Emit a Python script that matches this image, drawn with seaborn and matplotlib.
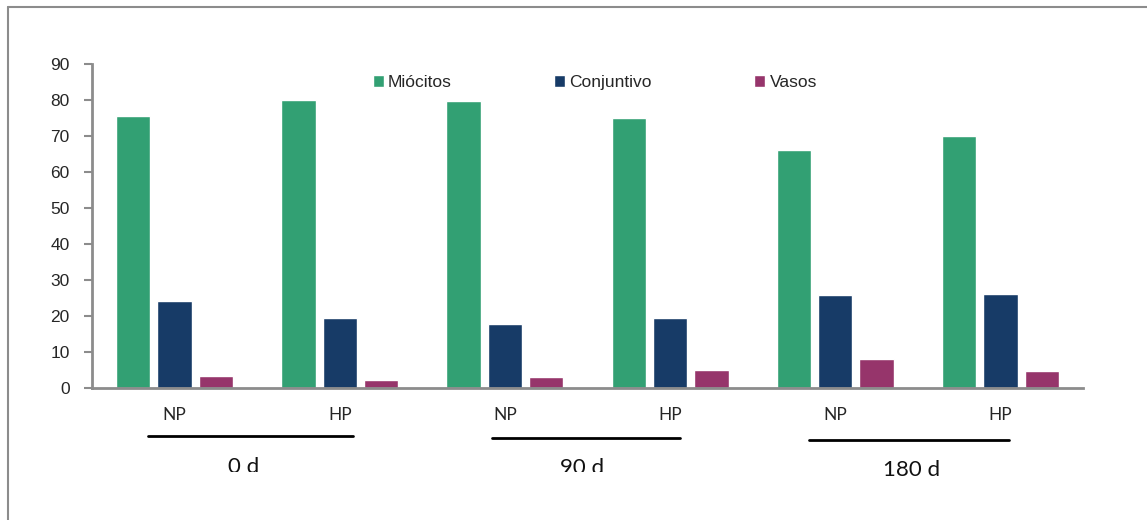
import matplotlib
matplotlib.use("Agg")
import matplotlib.pyplot as plt
import seaborn as sns
import pandas as pd
from matplotlib.transforms import Bbox, TransformedBbox
from matplotlib.lines import Line2D

# Tissue composition (%) by group
groups = ["NP 0", "HP 0", "NP 90", "HP 90", "NP 180", "HP 180"]
tick_labels = ["NP", "HP", "NP", "HP", "NP", "HP"]
series = ["Miócitos", "Conjuntivo", "Vasos"]
miocitos = [75.6, 80.0, 79.7, 75.0, 66.1, 70.0]
conjuntivo = [24.1, 19.5, 17.8, 19.5, 25.9, 26.1]
vasos = [3.3, 2.2, 3.0, 5.0, 8.1, 4.8]
colors = ["#32a073", "#173b67", "#96356b"]

# Period labels under the NP/HP pairs
periods = ["0 d", "90 d", "180 d"]
period_spans = [(-0.16, 1.08), (1.92, 3.06), (3.84, 5.05)]
period_label_x = [0.42, 2.47, 4.46]

df = pd.DataFrame({
    "grupo": groups * 3,
    "serie": [s for s in series for _ in groups],
    "valor": miocitos + conjuntivo + vasos,
})

sns.set_style("white")
plt.rcParams["font.family"] = ["Liberation Sans", "DejaVu Sans"]

fig = plt.figure(figsize=(11.47, 5.2), dpi=100)
ax = fig.add_axes([92 / 1147, 1 - 388 / 520, (1083 - 92) / 1147, (388 - 64) / 520])

sns.barplot(data=df, x="grupo", y="valor", hue="serie", order=groups,
            hue_order=series, palette=colors, width=0.75, gap=0.17,
            saturation=1, errorbar=None, ax=ax)

ax.set_xlim(-0.5, 5.5)
ax.set_ylim(0, 90)
ax.set_yticks(range(0, 91, 10))
ax.set_xlabel("")
ax.set_ylabel("")
ax.set_xticks(range(len(groups)))
ax.set_xticklabels(tick_labels, family=["Lato", "DejaVu Sans"], fontsize=12.5)

for side in ["top", "right"]:
    ax.spines[side].set_visible(False)
for side in ["left", "bottom"]:
    ax.spines[side].set_color("#8c8c8c")
    ax.spines[side].set_linewidth(2)
ax.tick_params(axis="y", direction="out", length=6, width=1.5, color="#8c8c8c",
               labelsize=12.5, pad=10, left=True)
ax.tick_params(axis="x", length=0, pad=14)

leg = ax.legend(loc="upper left", bbox_to_anchor=((373 - 92) / 991, 1.0 - 11 / 324),
                ncol=3, frameon=False, fontsize=12.5, handlelength=0.62,
                handleheight=0.62, handletextpad=0.25, columnspacing=5.9,
                borderaxespad=0, borderpad=0)

# Group brackets and period captions
trans = ax.get_xaxis_transform()
line_y = [-0.147, -0.154, -0.160]
label_y = [-0.214, -0.216, -0.223]
for (x0, x1), yy in zip(period_spans, line_y):
    ax.add_line(Line2D([x0, x1], [yy, yy], transform=trans, color="black",
                       lw=2, clip_on=False))

for i, (lab, xx, yy) in enumerate(zip(periods, period_label_x, label_y)):
    t = ax.text(xx, yy, lab, transform=trans, ha="center", va="top",
                fontsize=16, family=["Lato", "DejaVu Sans"], color="#111111")
    if i < 2:
        # the first two captions are cut off along their lower edge
        clip = TransformedBbox(Bbox([[0, 1 - 472 / 520], [1, 1]]), fig.transFigure)
        t.set_clip_box(clip)
        t.set_clip_on(True)

# Outer chart frame
fig.add_artist(Line2D([8 / 1147, 8 / 1147], [0, 1 - 7 / 520], transform=fig.transFigure,
                      color="#8c8c8c", lw=1.5))
fig.add_artist(Line2D([8 / 1147, 1], [1 - 7 / 520, 1 - 7 / 520], transform=fig.transFigure,
                      color="#8c8c8c", lw=1.5))

fig.savefig("out.png", dpi=100)
